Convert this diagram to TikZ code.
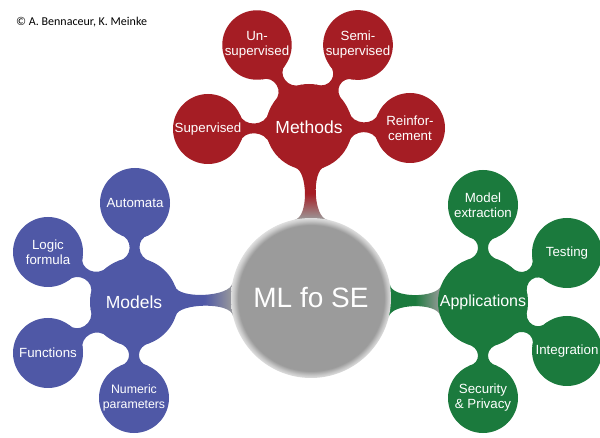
\documentclass[tikz,border=0pt]{standalone}
\usepackage{fontspec}
\setmainfont{Liberation Sans}
\newfontfamily\cfont{Carlito}
\usetikzlibrary{calc}
\definecolor{mred}{HTML}{A51D24}
\definecolor{mblue}{HTML}{4F58A6}
\definecolor{mgreen}{HTML}{1B7A3D}
\definecolor{mgray}{HTML}{9B9B9B}
\pgfdeclareradialshading{rimshade}{\pgfpoint{0bp}{0bp}}{rgb(0bp)=(0.608,0.608,0.608); rgb(22.8bp)=(0.608,0.608,0.608); rgb(24.2bp)=(0.79,0.79,0.79); rgb(25bp)=(0.87,0.87,0.87); rgb(50bp)=(0.87,0.87,0.87)}
\pgfdeclarelayer{bglayer}
\pgfdeclarelayer{shadowlayer}
\pgfdeclarelayer{necklayer}
\pgfsetlayers{bglayer,shadowlayer,necklayer,main}
% #1 parent, #2 child, #3 half angle at parent, #4 half angle at child, #5 neck half width, #6 options
\newcommand\neck[6]{%
 \path[#6] let \p1=($(#2)-(#1)$), \n1={atan2(\y1,\x1)}, \n2={\n1+#3}, \n3={\n1-#3},
   \n4={\n1+180-#4}, \n5={\n1+180+#4}, \n6={\n1+180} in
 (#1.\n2) .. controls ($(#1.\n1)!#5!90:(#2.\n6)$) and ($(#2.\n6)!#5!-90:(#1.\n1)$) .. (#2.\n4)
 -- (#2.\n5) .. controls ($(#2.\n6)!#5!90:(#1.\n1)$) and ($(#1.\n1)!#5!-90:(#2.\n6)$) .. (#1.\n3) -- cycle;}
\newcommand\bubshadow[1]{%
 \path let \p1=($(#1.east)-(#1.center)$) in
  \foreach \e/\o in {0/0.16,1.5/0.12,3/0.08} {
   [fill=black,opacity=\o] ($(#1.center)+(2.5,2.5)$) circle[radius=\x1+\e pt]
  };}
\tikzset{
 bub/.style={circle, inner sep=0pt, outer sep=0pt, minimum size=#1, text=white, align=center},
 kid/.style={font=\fontsize{13.3}{15}\selectfont},
 mid/.style={font=\fontsize{17.5}{20}\selectfont},
}
\begin{document}
\begin{tikzpicture}[x=1pt,y=-1pt]
\begin{pgfonlayer}{bglayer}
\fill[white] (0,0) rectangle (600,438);
\end{pgfonlayer}
\useasboundingbox (0,0) rectangle (600,438);
% centre
\node[bub=160pt, shading=rimshade, font=\fontsize{28}{32}\selectfont] (ml) at (311,298) {ML fo SE};
% methods
\node[bub=86pt, fill=mred, mid] (methods) at (309,127) {Methods};
\node[bub=65pt, fill=mred, kid] (unsup) at (257,45) {Un-\\supervised};
\node[bub=66pt, fill=mred, kid] (semisup) at (358,45) {Semi-\\supervised};
\node[bub=70pt, fill=mred, kid] (sup) at (208,129) {Supervised};
\node[bub=70pt, fill=mred, kid] (reinf) at (410,128) {Reinfor-\\cement};
% models
\node[bub=88pt, fill=mblue, mid] (models) at (134,302) {Models};
\node[bub=70pt, fill=mblue, kid] (automata) at (135,203) {Automata};
\node[bub=70pt, fill=mblue, kid] (logic) at (48,252) {Logic\\formula};
\node[bub=70pt, fill=mblue, kid] (functions) at (48,353) {Functions};
\node[bub=70pt, fill=mblue, font=\fontsize{12.3}{15}\selectfont] (numeric) at (134,398) {Numeric\\parameters};
% applications
\node[bub=90pt, fill=mgreen, font=\fontsize{16}{20}\selectfont] (apps) at (483,302) {Applications};
\node[bub=70pt, fill=mgreen, kid] (modelext) at (483,205) {Model\\extraction};
\node[bub=70pt, fill=mgreen, kid] (testing) at (567,253) {Testing};
\node[bub=70pt, fill=mgreen, kid] (integration) at (567,351) {Integration};
\node[bub=70pt, fill=mgreen, kid] (security) at (483,398) {Security\\\& Privacy};
% copyright
\node[anchor=base west, inner sep=0pt, font=\cfont\fontsize{12}{14}\selectfont] (copy) at (16,26) {© A. Bennaceur, K. Meinke};
% shadows
\begin{pgfonlayer}{shadowlayer}
\foreach \b in {ml,methods,unsup,semisup,sup,reinf,models,automata,logic,functions,numeric,apps,modelext,testing,integration,security}
 {\bubshadow{\b}}
\end{pgfonlayer}
% necks
\begin{pgfonlayer}{necklayer}
\neck{methods}{ml}{20}{12}{2pt}{top color=mred, bottom color=mgray, middle color=mred}
\neck{models}{ml}{20}{12}{2pt}{left color=mblue, right color=mgray, middle color=mblue}
\neck{apps}{ml}{20}{12}{2pt}{right color=mgray, left color=mgreen, middle color=mgreen}
\foreach \c in {unsup,semisup,sup,reinf} {\neck{methods}{\c}{22}{24}{1.5pt}{fill=mred}}
\foreach \c in {automata,logic,functions,numeric} {\neck{models}{\c}{22}{24}{1.5pt}{fill=mblue}}
\foreach \c in {modelext,testing,integration,security} {\neck{apps}{\c}{22}{24}{1.5pt}{fill=mgreen}}
\end{pgfonlayer}
\end{tikzpicture}
\end{document}
